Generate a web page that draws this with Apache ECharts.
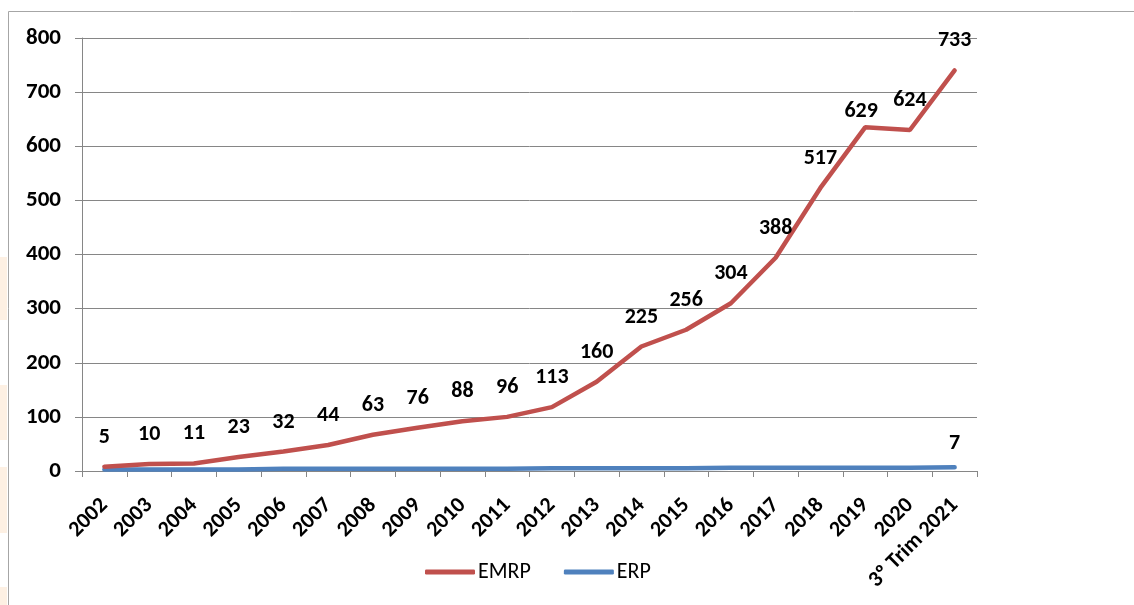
<!DOCTYPE html>
<html>
<head>
<meta charset="utf-8">
<script src="https://cdn.jsdelivr.net/npm/echarts@6/dist/echarts.min.js"></script>
<style>
html,body{margin:0;padding:0;background:#fff;}
#chart{width:1134px;height:605px;}
</style>
</head>
<body>
<div id="chart"></div>
<script>
const categories = ['2002','2003','2004','2005','2006','2007','2008','2009','2010','2011','2012','2013','2014','2015','2016','2017','2018','2019','2020','3º Trim 2021'];
const emrp = [5,10,11,23,32,44,63,76,88,96,113,160,225,256,304,388,517,629,624,733];
const erp = [3,3,3,3,4,4,4,4,4,4,5,5,5,5,6,6,6,6,6,7];
const yTicks = [0,100,200,300,400,500,600,700,800];

const FONT = 'Carlito, Lato, "Liberation Sans", sans-serif';
const chart = echarts.init(document.getElementById('chart'), null, {renderer:'canvas'});

const erpData = erp.map((v,i)=> i===erp.length-1 ? {value:v,label:{show:true}} : v);
const emrpData = emrp.map((v,i)=> i===17 ? {value:v,label:{offset:[-4,14]}} : v);

chart.setOption({
  animation:false,
  backgroundColor:'#fff',
  textStyle:{fontFamily:FONT},
  graphic:[
    {type:'rect', shape:{x:0,y:257,width:7,height:63}, style:{fill:'#fdf0e3'}},
    {type:'rect', shape:{x:0,y:385,width:7,height:55}, style:{fill:'#fdf0e3'}},
    {type:'rect', shape:{x:0,y:467,width:7,height:66}, style:{fill:'#fdf0e3'}},
    {type:'rect', shape:{x:0,y:587,width:7,height:18}, style:{fill:'#fdf0e3'}},
    {type:'polyline', shape:{points:[[8.5,606],[8.5,11.5],[1135,11.5]]}, style:{stroke:'#a6a6a6',lineWidth:1,fill:null}}
  ],
  grid:{left:82,right:157,top:38,bottom:134,containLabel:false},
  legend:{
    data:['EMRP','ERP'],
    left:420, top:556,
    icon:'roundRect',
    itemWidth:50, itemHeight:5, itemGap:33,
    textStyle:{fontFamily:FONT,fontSize:22,color:'#000',padding:[0,0,0,-2]}
  },
  xAxis:{
    type:'category',
    data:categories,
    boundaryGap:true,
    axisLine:{lineStyle:{color:'#868686',width:1}},
    axisTick:{show:true,length:6,alignWithLabel:false,lineStyle:{color:'#868686'}},
    axisLabel:{rotate:45,interval:0,fontFamily:FONT,fontSize:22,fontWeight:'bold',color:'#000',margin:31}
  },
  yAxis:{
    type:'value',
    min:0,max:800,interval:100,
    axisLine:{show:true,lineStyle:{color:'#868686',width:1}},
    axisTick:{show:true,length:7,lineStyle:{color:'#868686'}},
    splitLine:{show:true,lineStyle:{color:'#868686',width:1}},
    axisLabel:{fontFamily:FONT,fontSize:23,fontWeight:'bold',color:'#000',margin:21}
  },
  series:[
    {
      name:'ERP', type:'line', stack:'total', data:erpData,
      symbol:'circle', symbolSize:1, showSymbol:true,
      lineStyle:{color:'#4F81BD',width:4.5,cap:'round'},
      itemStyle:{color:'#4F81BD'},
      label:{show:false,position:'top',distance:12,fontFamily:FONT,fontSize:22,fontWeight:'bold',color:'#000'},
      z:2
    },
    {
      name:'EMRP', type:'line', stack:'total', data:emrpData,
      symbol:'circle', symbolSize:1, showSymbol:true,
      lineStyle:{color:'#C0504D',width:4.5,cap:'round'},
      itemStyle:{color:'#C0504D'},
      label:{show:true,position:'top',distance:18,fontFamily:FONT,fontSize:22,fontWeight:'bold',color:'#000'},
      z:3
    }
  ]
});
</script>
</body>
</html>
